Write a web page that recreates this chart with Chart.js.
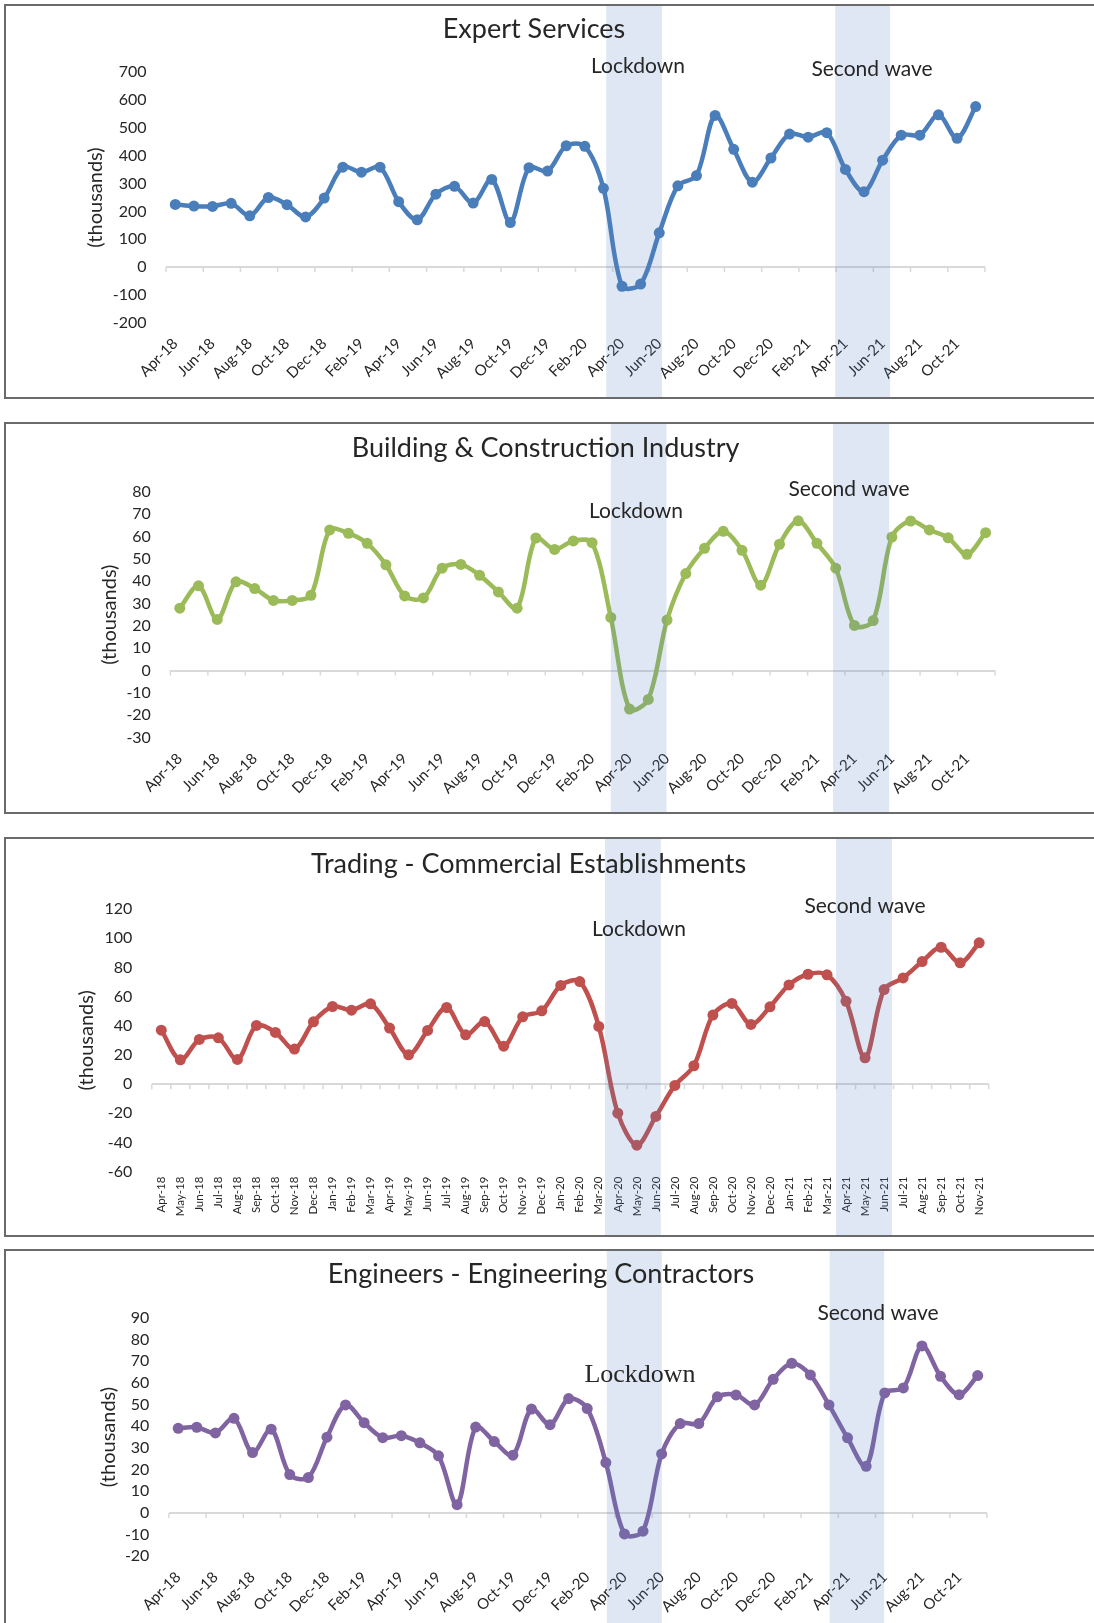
<!DOCTYPE html>
<html><head><meta charset="utf-8">
<script src="https://cdn.jsdelivr.net/npm/chart.js@4.4.1/dist/chart.umd.min.js"></script>
<style>
html,body{margin:0;padding:0;background:#fff;}
#wrap{position:relative;width:1094px;height:1623px;overflow:hidden;background:#fff;}
#wrap canvas{position:absolute;left:0;}
.box{position:absolute;left:4px;width:1200px;border:2px solid #6a6a6a;box-sizing:border-box;pointer-events:none;}
</style></head><body>
<div id="wrap"></div>
<script>
// ---------- DATA ----------
const months = ['Apr-18','May-18','Jun-18','Jul-18','Aug-18','Sep-18','Oct-18','Nov-18','Dec-18',
 'Jan-19','Feb-19','Mar-19','Apr-19','May-19','Jun-19','Jul-19','Aug-19','Sep-19','Oct-19','Nov-19','Dec-19',
 'Jan-20','Feb-20','Mar-20','Apr-20','May-20','Jun-20','Jul-20','Aug-20','Sep-20','Oct-20','Nov-20','Dec-20',
 'Jan-21','Feb-21','Mar-21','Apr-21','May-21','Jun-21','Jul-21','Aug-21','Sep-21','Oct-21','Nov-21'];

const expertServices = [225,219,218,229,184,250,224,180,248,
 359,341,359,235,170,262,290,230,315,160,357,345,
 436,434,283,-69,-61,123,292,329,545,423,305,392,
 478,467,483,351,271,384,474,474,547,463,577];

const buildingConstruction = [27.9,37.9,22.9,39.7,36.7,31.4,31.4,33.7,62.9,
 61.4,56.9,47.3,33.4,32.5,45.8,47.5,42.6,35.2,27.9,59.3,54.2,
 58.0,57.2,23.8,-17.2,-12.9,22.6,43.4,54.7,62.3,53.8,38.2,56.5,
 67.0,56.9,45.8,20.2,22.4,59.7,66.9,62.9,59.4,52.0,61.7];

const tradingCommercial = [37.0,16.7,30.6,31.7,16.9,40.2,35.4,24.0,42.7,
 53.2,50.7,55.0,38.4,20.1,36.8,52.5,33.8,42.9,26.0,46.1,50.2,
 67.6,70.3,39.5,-19.9,-41.8,-22.1,-0.9,12.6,47.3,55.3,40.9,53.0,
 68.0,75.3,74.9,56.8,18.0,64.8,72.8,84.0,93.8,83.1,96.8];

const engineersContractors = [39.0,39.5,36.9,43.6,27.8,38.6,17.7,16.3,34.9,
 49.8,41.6,34.7,35.6,32.3,26.3,3.8,39.6,32.9,26.6,47.9,40.7,
 52.7,48.1,23.2,-9.7,-8.4,27.2,41.2,41.2,53.5,54.4,49.8,61.6,
 69.0,63.6,49.8,34.6,21.5,55.3,57.6,77.0,63.0,54.5,63.3];

const titles = ['Expert Services','Building & Construction Industry','Trading - Commercial Establishments','Engineers - Engineering Contractors'];
const yAxisTitle = '(thousands)';
const lockdownText = 'Lockdown';
const secondWaveText = 'Second wave';

// ---------- LAYOUT / STYLE ----------
const W = 1094;
const SANS = 'Lato, "Open Sans", sans-serif';
const TXT = '#262626';
const panels = [
 { top:4, height:395, values:expertServices, color:'#4a7ebb', min:-200, max:700, step:100,
   area:{left:166,right:985,top:68.3,bottom:318.7}, yTitleX:96, every:2, rot:45, xFont:15, xPad:12,
   bands:[[23.15,26.15],[35.45,38.4]], title:{x:534,y:33.7},
   notes:[{x:638,y:69.3,serif:false},{x:872,y:72}] },
 { top:422, height:392, values:buildingConstruction, color:'#9bbb59', min:-30, max:80, step:10,
   area:{left:170.4,right:995,top:69.7,bottom:315.7}, yTitleX:109.5, every:2, rot:45, xFont:15, xPad:12,
   bands:[[23.0,25.97],[34.86,37.85]], title:{x:545.6,y:34.7},
   notes:[{x:636,y:95.7},{x:849,y:74}] },
 { top:837, height:400, values:tradingCommercial, color:'#c0504d', min:-60, max:120, step:20,
   area:{left:151.8,right:988.7,top:72,bottom:334.7}, yTitleX:86.8, every:1, rot:90, xFont:11.5, xPad:5,
   bands:[[23.33,26.26],[35.47,38.42]], title:{x:528.6,y:36},
   notes:[{x:639,y:99},{x:865,y:76.3}] },
 { top:1249, height:380, values:engineersContractors, color:'#8064a2', min:-20, max:90, step:10,
   area:{left:168.9,right:987,top:68.7,bottom:307.3}, yTitleX:109, every:2, rot:45, xFont:15, xPad:12,
   bands:[[23.05,26.01],[35.04,37.97]], title:{x:541,y:34.3},
   notes:[{x:640,y:132.7,serif:true},{x:878,y:71}] }
];

const decoPlugin = {
  id:'deco',
  beforeDatasetsDraw(chart, args, o){
    const {ctx, scales:{x,y}} = chart;
    const y0 = y.getPixelForValue(0);
    ctx.save();
    ctx.strokeStyle = '#d9d9d9'; ctx.lineWidth = 1.5;
    ctx.beginPath();
    for (let i = 0; i <= months.length; i += o.every) {
      const px = x.getPixelForValue(i - 0.5);
      ctx.moveTo(px, y0); ctx.lineTo(px, y0 + 5);
    }
    ctx.stroke();
    ctx.restore();
  },
  afterDatasetsDraw(chart, args, o){
    const {ctx, scales:{x}} = chart;
    ctx.save();
    ctx.fillStyle = 'rgba(79,129,189,0.19)';
    o.bands.forEach(b => {
      const x0 = x.getPixelForValue(b[0]), x1 = x.getPixelForValue(b[1]);
      ctx.fillRect(x0, 0, x1 - x0, chart.height);
    });
    ctx.fillStyle = TXT;
    ctx.textAlign = 'center'; ctx.textBaseline = 'alphabetic';
    ctx.font = '27px ' + SANS;
    ctx.fillText(o.title, o.titlePos.x, o.titlePos.y);
    o.notes.forEach((n, i) => {
      ctx.font = n.serif ? '26px "Liberation Serif", serif' : '21px ' + SANS;
      ctx.fillText(i === 0 ? lockdownText : secondWaveText, n.x, n.y);
    });
    ctx.restore();
  }
};

const wrap = document.getElementById('wrap');
panels.forEach((p, k) => {
  const cv = document.createElement('canvas');
  cv.width = W; cv.height = p.height;
  cv.style.top = p.top + 'px'; cv.style.width = W + 'px'; cv.style.height = p.height + 'px';
  wrap.appendChild(cv);
  const bx = document.createElement('div');
  bx.className = 'box';
  bx.style.top = p.top + 'px';
  bx.style.height = (k === 3 ? 500 : p.height) + 'px';
  wrap.appendChild(bx);

  new Chart(cv.getContext('2d'), {
    type:'line',
    data:{ labels: months, datasets:[{
      data: p.values, borderColor: p.color, backgroundColor: p.color,
      borderWidth: 4.5, pointRadius: 5.5, pointHoverRadius: 5.5, pointBorderWidth: 0,
      pointBackgroundColor: p.color, tension: 0.32, fill: false, clip: false
    }]},
    options:{
      responsive:false, animation:false, devicePixelRatio:1,
      events: [],
      layout:{ padding:{ top:p.area.top, right:W - p.area.right, left:0, bottom:0 } },
      plugins:{
        legend:{display:false}, tooltip:{enabled:false}, title:{display:false},
        deco:{ every:p.every, bands:p.bands, title:titles[k], titlePos:p.title, notes:p.notes }
      },
      scales:{
        x:{
          offset:true,
          grid:{display:false, drawTicks:false}, border:{display:false},
          ticks:{ autoSkip:false, minRotation:p.rot, maxRotation:p.rot, padding:p.xPad,
            color:TXT, font:{family:SANS, size:p.xFont},
            callback:function(v, i){ return i % p.every === 0 ? this.getLabelForValue(v) : ''; } },
          afterFit:(s) => { s.height = p.height - p.area.bottom; }
        },
        y:{
          min:p.min, max:p.max,
          grid:{ drawTicks:false, lineWidth:2,
            color:(c) => (c.tick && c.tick.value === 0) ? '#d9d9d9' : 'rgba(0,0,0,0)' },
          border:{display:false},
          ticks:{ stepSize:p.step, maxTicksLimit:30, autoSkip:false, padding:19.5, color:TXT,
            font:{family:SANS, size:16} },
          title:{ display:true, text:yAxisTitle, color:TXT,
            font:{family:SANS, size:20, lineHeight:1}, padding:{top:p.yTitleX - 10, bottom:0} },
          afterFit:(s) => { s.width = p.area.left; }
        }
      }
    },
    plugins:[decoPlugin]
  });
});
</script>
</body></html>
